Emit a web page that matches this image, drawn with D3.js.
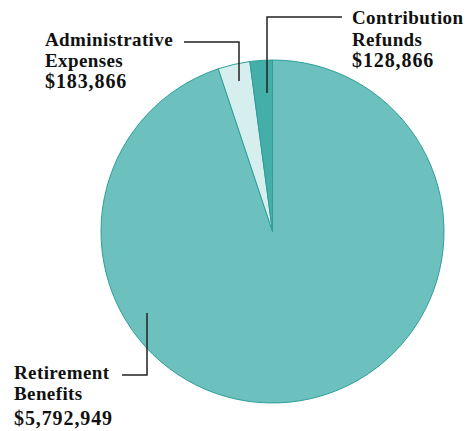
<!DOCTYPE html>
<html><head><meta charset="utf-8">
<script src="https://cdn.jsdelivr.net/npm/d3@7"></script>
<style>body{margin:0;background:#fff}text{font-family:"Liberation Serif","DejaVu Serif",serif;fill:#111}</style>
</head><body>
<svg id="c" width="471" height="431"></svg>
<script>
const categories = ["Retirement Benefits", "Administrative Expenses", "Contribution Refunds"];
const values = [5792949, 183866, 128866];
const valueLabels = ["$5,792,949", "$183,866", "$128,866"];
const colors = ["#6cc0be", "#d6eeee", "#44afa9"];

const svg = d3.select("#c");
const cx = 272.5, cy = 231.5, r = 171.5;
const g = svg.append("g").attr("transform", `translate(${cx},${cy})`);
const pie = d3.pie().sort(null).value(d => d);
const arcs = pie(values);
const arc = d3.arc().innerRadius(0).outerRadius(r);
g.selectAll("path").data(arcs).enter().append("path")
  .attr("d", arc).attr("fill", (d,i) => colors[i])
  .attr("stroke", "#2e9f98").attr("stroke-width", 1);

// leader lines
const lines = [
  [[122,375],[147,375],[147,313]],
  [[184,42],[239,42],[239,81]],
  [[342,17],[267,17],[267,93]]
];
svg.selectAll("path.lead").data(lines).enter().append("path")
  .attr("class","lead").attr("fill","none").attr("stroke","#222").attr("stroke-width",1.5)
  .attr("d", d3.line());

// labels
const labelSpec = [
  {x:14, lines:["Retirement","Benefits"], ys:[379,400], vy:425},
  {x:45, lines:["Administrative","Expenses"], ys:[46,67], vy:88},
  {x:352, lines:["Contribution","Refunds"], ys:[24,46], vy:67}
];
labelSpec.forEach((s,i) => {
  s.lines.forEach((t,j) => svg.append("text").attr("x", s.x).attr("y", s.ys[j])
    .attr("font-size", 19).attr("letter-spacing", 0.4).attr("font-weight", 600).text(t));
  svg.append("text").attr("x", s.x).attr("y", s.vy).attr("font-size", 20)
    .attr("letter-spacing", 0.9).attr("font-weight", 700).text(valueLabels[i]);
});
</script>
</body></html>
